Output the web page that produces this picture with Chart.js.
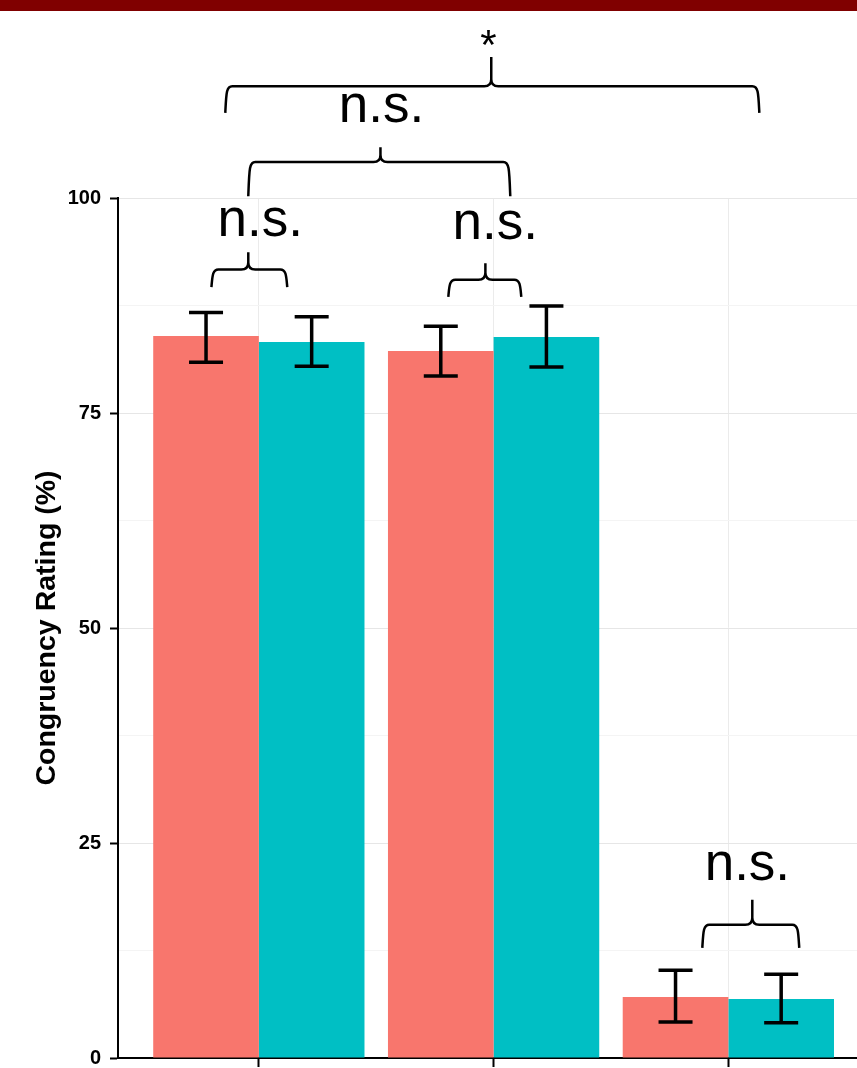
<!DOCTYPE html>
<html>
<head>
<meta charset="utf-8">
<script src="https://cdn.jsdelivr.net/npm/chart.js@4"></script>
<style>
    html, body { margin: 0; padding: 0; background: #fff; overflow: hidden; }
    #band { position: absolute; left: 0; top: 0; width: 857px; height: 11px; background: #800000; }
    #wrap { position: absolute; left: 0; top: 0; width: 857px; height: 1068px; }
</style>
</head>
<body>
<div id="wrap"><canvas id="chart"></canvas></div>
<div id="band"></div>
<script>
// Posiciones de las categorias (sin etiquetas en el eje x)
const categories = [1, 2, 3];
const yTicks = [0, 12.5, 25, 37.5, 50, 62.5, 75, 87.5, 100];

// Valores medios
const redValues = [83.95, 82.2, 7.1];
const tealValues = [83.25, 83.85, 6.85];

// Barras de error (min / max)
const redLow = [80.9, 79.3, 4.2];
const redHigh = [86.7, 85.1, 10.2];
const tealLow = [80.45, 80.35, 4.1];
const tealHigh = [86.2, 87.45, 9.75];

// Llaves de significancia (unidades de datos)
const braceFrom = [0.798, 1.807, 2.889, 0.955, 0.857];
const braceTo = [1.121, 2.118, 3.302, 2.071, 3.132];
const braceMid = [0.955, 1.965, 3.102, 1.518, 1.990];
const braceEnd = [89.65, 88.5, 12.8, 100.2, 109.9];
const braceFlat = [91.7, 90.5, 15.5, 104.2, 113.0];
const braceTip = [93.7, 92.4, 18.4, 105.9, 116.4];
const braceLabel = ['n.s.', 'n.s.', 'n.s.', 'n.s.', '*'];
const labelX = [1.006, 2.007, 3.081, 1.522, 1.978];
const labelY = [95.6, 95.2, 20.7, 108.8, 116.2];

const errorBars = {
    id: 'errorBars',
    afterDatasetsDraw(chart) {
        const ctx = chart.ctx;
        const y = chart.scales.y;
        const lows = [redLow, tealLow];
        const highs = [redHigh, tealHigh];
        ctx.save();
        ctx.strokeStyle = '#000';
        ctx.lineWidth = 3.5;
        ctx.lineCap = 'butt';
        for (let d = 0; d < 2; d++) {
            const meta = chart.getDatasetMeta(d);
            meta.data.forEach((bar, i) => {
                const x = bar.x;
                const y1 = y.getPixelForValue(lows[d][i]);
                const y2 = y.getPixelForValue(highs[d][i]);
                ctx.beginPath();
                ctx.moveTo(x, y1); ctx.lineTo(x, y2);
                ctx.moveTo(x - 17, y1); ctx.lineTo(x + 17, y1);
                ctx.moveTo(x - 17, y2); ctx.lineTo(x + 17, y2);
                ctx.stroke();
            });
        }
        ctx.restore();
    }
};

function drawBrace(ctx, xl, xr, xm, ye, yf, yt) {
    const r = 7;
    ctx.beginPath();
    ctx.moveTo(xl, ye);
    ctx.bezierCurveTo(xl + 1, yf + r, xl + 1, yf, xl + r, yf);
    ctx.lineTo(xm - r, yf);
    ctx.quadraticCurveTo(xm, yf, xm, yf - r);
    ctx.lineTo(xm, yt);
    ctx.moveTo(xr, ye);
    ctx.bezierCurveTo(xr - 1, yf + r, xr - 1, yf, xr - r, yf);
    ctx.lineTo(xm + r, yf);
    ctx.quadraticCurveTo(xm, yf, xm, yf - r);
    ctx.stroke();
}

const braces = {
    id: 'braces',
    afterDraw(chart) {
        const ctx = chart.ctx;
        const x = chart.scales.x;
        const y = chart.scales.y;
        ctx.save();
        ctx.strokeStyle = '#000';
        ctx.fillStyle = '#000';
        ctx.lineWidth = 2.5;
        ctx.textAlign = 'center';
        ctx.textBaseline = 'alphabetic';
        braceLabel.forEach((lab, i) => {
            drawBrace(ctx,
                x.getPixelForValue(braceFrom[i]), x.getPixelForValue(braceTo[i]), x.getPixelForValue(braceMid[i]),
                y.getPixelForValue(braceEnd[i]), y.getPixelForValue(braceFlat[i]), y.getPixelForValue(braceTip[i]));
            ctx.font = lab === '*' ? '42px "Liberation Sans", Arial, sans-serif' : '53px "Liberation Sans", Arial, sans-serif';
            ctx.fillText(lab, x.getPixelForValue(labelX[i]), y.getPixelForValue(labelY[i]));
        });
        ctx.restore();
    }
};

new Chart(document.getElementById('chart'), {
    type: 'bar',
    data: {
        datasets: [{
            label: 'A',
            data: categories.map((c, i) => ({ x: c, y: redValues[i] })),
            backgroundColor: '#F8766D'
        }, {
            label: 'B',
            data: categories.map((c, i) => ({ x: c, y: tealValues[i] })),
            backgroundColor: '#00BFC4'
        }]
    },
    plugins: [errorBars, braces],
    options: {
        responsive: true,
        maintainAspectRatio: false,
        animation: false,
        categoryPercentage: 0.9,
        barPercentage: 1,
        layout: { padding: { top: 198, left: 0, right: 0, bottom: 0 } },
        plugins: { legend: { display: false }, tooltip: { enabled: false } },
        scales: {
            x: {
                type: 'linear',
                min: 0.4,
                max: 3.548,
                offset: false,
                afterBuildTicks: (s) => { s.ticks = categories.map(v => ({ value: v })); },
                afterFit: (s) => { s.height = 10; s.paddingLeft = 0; s.paddingRight = 0; },
                ticks: { callback: () => '', padding: 0 },
                grid: { offset: false, color: '#ebebeb', lineWidth: 1, tickLength: 9, tickColor: '#000', tickWidth: 2 },
                border: { color: '#000', width: 2 }
            },
            y: {
                min: 0,
                max: 100,
                afterBuildTicks: (s) => { s.ticks = yTicks.map(v => ({ value: v })); },
                afterFit: (s) => { s.width = 118; s.paddingTop = 0; s.paddingBottom = 0; },
                ticks: {
                    callback: (v) => (v % 25 === 0 ? v : ''),
                    color: '#000',
                    font: { family: '"Liberation Sans", Arial, sans-serif', size: 20, weight: 'bold' },
                    padding: 9
                },
                grid: {
                    color: (c) => (c.tick && c.tick.value % 25 === 0 ? '#e6e6e6' : '#f4f4f4'),
                    tickColor: (c) => (c.tick && c.tick.value % 25 === 0 ? '#000' : 'rgba(0,0,0,0)'),
                    tickLength: 8,
                    tickWidth: 2
                },
                border: { color: '#000', width: 2 },
                title: {
                    display: true,
                    text: 'Congruency Rating (%)',
                    color: '#000',
                    font: { family: '"Liberation Sans", Arial, sans-serif', size: 28.5, weight: 'bold' },
                    padding: { top: 30, bottom: 0 }
                }
            }
        }
    }
});
</script>
</body>
</html>
